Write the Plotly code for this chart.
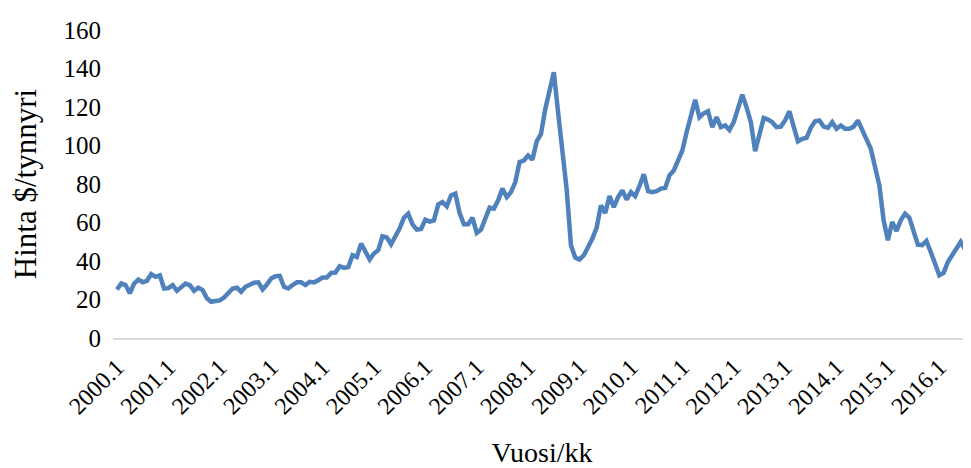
import plotly.graph_objects as go

# Monthly crude oil price, $/barrel, 2000.1 - 2016.8
years = list(range(2000, 2017))
months = [f"{y}.{m}" for y in years for m in range(1, 13)][:200]

price = [
    # 2000
    25.2, 28.3, 27.5, 23.2, 28.3, 30.4, 29.0, 29.7, 33.2, 31.8, 32.5, 25.7,
    # 2001
    25.9, 27.5, 24.5, 26.6, 28.3, 27.5, 24.5, 26.1, 24.9, 20.6, 18.8, 19.2,
    # 2002
    19.5, 21.0, 23.8, 25.7, 26.1, 24.0, 26.6, 27.5, 28.7, 28.9, 25.2, 27.8,
    # 2003
    30.9, 32.1, 32.3, 26.6, 25.7, 27.5, 28.9, 28.9, 27.5, 29.2, 28.9, 30.0,
    # 2004
    31.4, 31.4, 33.8, 34.0, 37.3, 36.4, 36.9, 43.0, 42.1, 49.0, 44.7, 40.8,
    # 2005
    43.9, 45.6, 52.8, 52.2, 48.7, 52.5, 57.0, 62.5, 64.6, 59.0, 56.3, 56.6,
    # 2006
    61.5, 60.5, 61.1, 69.3, 70.6, 68.4, 74.1, 75.0, 64.9, 59.1, 59.1, 62.5,
    # 2007
    54.6, 56.3, 61.5, 67.7, 67.2, 71.5, 77.6, 73.2, 75.8, 81.0, 91.4, 92.2,
    # 2008
    94.8, 92.6, 102.2, 106.0, 119.0, 128.5, 138.0, 117.0, 97.0, 77.0, 48.0, 41.8,
    # 2009
    40.8, 43.0, 47.3, 51.7, 57.4, 68.9, 64.9, 73.7, 68.0, 73.2, 76.7, 71.9,
    # 2010
    75.8, 73.7, 79.0, 85.0, 76.3, 75.8, 76.3, 77.6, 77.9, 84.5, 87.0, 92.2,
    # 2011
    97.4, 106.9, 115.5, 123.7, 114.7, 116.7, 117.8, 109.5, 114.7, 109.5, 110.4, 108.1,
    # 2012
    112.1, 119.5, 126.4, 119.8, 112.1, 97.0, 105.2, 114.3, 113.5, 112.1, 109.5, 109.8,
    # 2013
    113.0, 117.8, 109.8, 102.2, 103.5, 104.0, 109.2, 112.6, 113.0, 109.8, 109.2, 112.1,
    # 2014
    108.7, 110.4, 108.7, 108.7, 109.8, 113.0, 108.1, 102.9, 98.3, 88.8, 79.3, 61.1,
    # 2015
    50.8, 60.3, 55.6, 61.1, 64.6, 62.5, 56.0, 48.5, 48.2, 50.4, 44.7, 38.7,
    # 2016
    32.6, 33.8, 39.5, 43.0, 46.5, 49.9, 46.0, 48.2,
]

tick_labels = [f"{y}.1" for y in years]
y_ticks = [0, 20, 40, 60, 80, 100, 120, 140, 160]

FONT = "Liberation Serif, Times New Roman, serif"

fig = go.Figure()

fig.add_trace(go.Scatter(
    x=months,
    y=price,
    mode="lines",
    line=dict(color="#4F81BD", width=4.5),
    showlegend=False,
))

# page body has an 8px margin, so the figure is 8px smaller than the window
fig.update_layout(
    width=963,
    height=460,
    paper_bgcolor="white",
    plot_bgcolor="white",
    margin=dict(l=105, r=0, t=22, b=130),
    font=dict(family=FONT, size=25, color="black"),
    xaxis=dict(
        type="category",
        automargin=False,
        range=[-0.93, 199.4],
        tickmode="array",
        tickvals=tick_labels,
        ticktext=tick_labels,
        tickangle=-45,
        tickfont=dict(size=24),
        ticklabelstandoff=4,
        showgrid=False,
        zeroline=False,
        showline=True,
        linecolor="#D9D9D9",
        linewidth=1.5,
        ticks="",
        title=dict(text="Vuosi/kk", font=dict(size=28), standoff=30),
    ),
    yaxis=dict(
        automargin=False,
        range=[0, 160],
        tickvals=y_ticks,
        showgrid=False,
        zeroline=False,
        showline=False,
        ticks="",
        tickfont=dict(size=25),
        ticklabelstandoff=11,
        title=dict(text="Hinta $/tynnyri", font=dict(size=31), standoff=17),
    ),
)

fig.write_html("out.html")
